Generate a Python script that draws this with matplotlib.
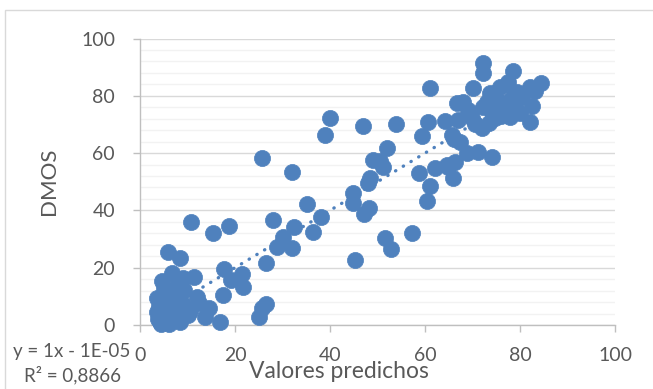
import matplotlib
matplotlib.use("Agg")
import matplotlib.pyplot as plt
from matplotlib.patches import Rectangle
from matplotlib.ticker import MultipleLocator
import numpy as np

# predicted values vs DMOS
pred = [
    72.3, 72.3, 78.5, 84.4, 82.1, 83.2, 70.2, 77.5, 75.8, 73.7, 79.3, 66.7, 68.1, 72.3, 75.1,
    77.2, 82.5, 80.0, 82.2, 77.9, 74.7, 71.9, 69.8, 67.0, 64.2, 65.6, 67.4, 68.8, 71.2, 74.0,
    66.3, 64.6, 61.1, 60.7, 59.3, 66.0, 53.9, 46.9, 39.9, 38.9, 51.9, 50.5, 51.2, 49.1, 58.8,
    62.0, 64.9, 65.8, 61.1, 60.5, 48.4, 48.1, 44.8, 44.9, 48.3, 47.2, 51.6, 52.8, 57.2, 45.3,
    73.0, 76.5, 78.5, 74.0, 70.5, 76.0, 80.5, 69.0, 73.5, 79.0,
    25.6, 31.9, 35.1, 38.2, 36.5, 32.4, 28.1, 30.2, 28.8, 31.9, 26.5, 18.8, 15.3, 10.7, 26.5,
    25.6, 25.0,
    5.9, 8.4, 17.7, 21.4, 19.2, 21.6, 17.5, 16.8, 11.4, 6.8, 4.6, 9.1, 9.3, 11.9, 12.4,
    14.5, 13.7, 10.2, 5.3, 3.5,
    4.0, 5.0, 3.8, 4.5, 6.0, 7.0, 6.5, 8.0, 5.5, 7.5, 8.5, 9.0, 3.6, 6.2, 7.8,
    10.5, 5.0, 8.0, 4.2, 6.8,
]
dmos = [
    91.5, 88.0, 88.8, 84.6, 83.2, 81.8, 82.6, 84.9, 83.2, 80.9, 81.5, 77.4, 77.9, 76.2, 78.5,
    77.9, 76.6, 73.9, 71.0, 72.7, 72.1, 68.7, 72.1, 71.6, 71.3, 66.3, 64.0, 59.9, 60.5, 58.8,
    57.0, 55.8, 82.6, 70.7, 66.1, 64.8, 70.2, 69.5, 72.1, 66.3, 61.8, 57.2, 55.0, 57.6, 53.2,
    54.7, 55.3, 51.4, 48.5, 43.4, 51.2, 49.7, 46.2, 42.7, 40.9, 38.7, 30.3, 26.6, 32.2, 22.7,
    78.0, 75.5, 80.0, 74.5, 70.0, 73.0, 79.5, 75.0, 70.5, 76.0,
    58.4, 53.5, 42.2, 37.6, 32.6, 34.1, 36.6, 30.8, 27.1, 26.8, 21.8, 34.6, 32.0, 35.8, 7.2,
    5.8, 2.9,
    25.6, 23.5, 19.5, 17.8, 15.7, 13.3, 10.6, 1.2, 16.8, 18.2, 15.4, 16.3, 12.2, 9.6, 7.6,
    5.8, 2.9, 3.5, 11.0, 9.3,
    6.5, 4.0, 2.0, 0.5, 1.5, 3.0, 6.0, 5.5, 8.5, 9.5, 1.0, 7.5, 4.5, 0.2, 12.5,
    5.0, 13.0, 14.5, 1.0, 4.5,
]

# linear trend as reported
slope = 1.0
intercept = -1e-05
r2_text = "0,8866"

blue = "#4f81bd"
grey_text = "#595959"
font = "Lato"

fig = plt.figure(figsize=(6.53, 3.89), dpi=100)
fig.patch.set_facecolor("white")

# chart frame
fig.patches.append(Rectangle((5 / 653, -0.1), 1.0, 1 - 10 / 389 + 0.1,
                             transform=fig.transFigure, fill=False,
                             edgecolor="#d9d9d9", linewidth=1.0))

ax = fig.add_axes([140 / 653, 1 - 325 / 389, 475 / 653, (325 - 38.5) / 389])
ax.set_xlim(0, 100)
ax.set_ylim(0, 100)

ax.yaxis.set_major_locator(MultipleLocator(20))
ax.yaxis.set_minor_locator(MultipleLocator(4))
ax.xaxis.set_major_locator(MultipleLocator(20))
ax.grid(which="minor", axis="y", color="#f2f2f2", linewidth=1.0, zorder=0)
ax.grid(which="major", axis="y", color="#d9d9d9", linewidth=1.0, zorder=0)
ax.set_axisbelow(True)

for s in ["top", "right"]:
    ax.spines[s].set_visible(False)
for s in ["left", "bottom"]:
    ax.spines[s].set_color("#bfbfbf")
    ax.spines[s].set_linewidth(1.0)

ax.tick_params(which="major", length=5, color="#bfbfbf", width=1.0,
               labelcolor=grey_text, labelsize=14)
ax.tick_params(which="minor", length=0)
ax.tick_params(axis="x", pad=11)
ax.tick_params(axis="y", pad=13)
for lab in ax.get_xticklabels() + ax.get_yticklabels():
    lab.set_fontfamily(font)

ax.scatter(pred, dmos, s=135, color=blue, edgecolors=blue, linewidths=0.5,
           zorder=3, clip_on=False)

xs = np.array([min(pred), max(pred)])
ax.plot(xs, slope * xs + intercept, color=blue, linewidth=2.4,
        linestyle=(0, (0.1, 2.6)), dash_capstyle="round", zorder=4)

ax.set_ylabel("DMOS", fontsize=16, color=grey_text, family=font, labelpad=16)
fig.text(339 / 653, 1 - 372 / 389, "Valores predichos", fontsize=16.5,
         color=grey_text, family=font, ha="center", va="center")

fig.text(72 / 653, 1 - 352 / 389, "y = 1x - 1E-05", fontsize=13.5,
         color=grey_text, family=font, ha="center", va="center")
fig.text(72 / 653, 1 - 375 / 389, "R² = " + r2_text, fontsize=13.5,
         color=grey_text, family=font, ha="center", va="center")

fig.savefig("out.png", dpi=100)
